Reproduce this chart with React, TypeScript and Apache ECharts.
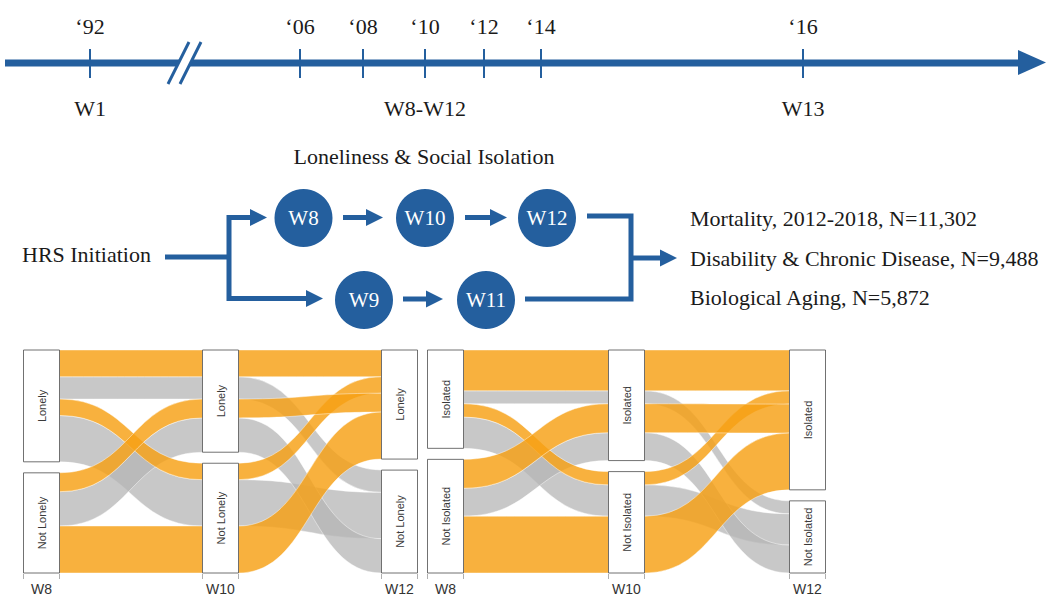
import React, { useEffect, useRef } from 'react';
import * as echarts from 'echarts';

// ---------- data ----------
const timelineYears = ['\u201892', '\u201806', '\u201808', '\u201810', '\u201812', '\u201814', '\u201816'];
const timelineWaves = ['W1', 'W8-W12', 'W13'];
const timelineWaveAt = [0, 3, 6];

const flowTitle = 'Loneliness & Social Isolation';
const flowStart = 'HRS Initiation';
const flowTopWaves = ['W8', 'W10', 'W12'];
const flowBottomWaves = ['W9', 'W11'];
const outcomes = [
  'Mortality, 2012-2018, N=11,302',
  'Disability & Chronic Disease, N=9,488',
  'Biological Aging, N=5,872',
];

const alluvialWaves = ['W8', 'W10', 'W12'];
const lonelinessStates = ['Lonely', 'Not Lonely'];
const isolationStates = ['Isolated', 'Not Isolated'];
// state index at W8, W10, W12 (0 = lonely/isolated, 1 = not)
const trajectories = [
  [0, 0, 0],
  [0, 0, 1],
  [0, 1, 0],
  [0, 1, 1],
  [1, 0, 0],
  [1, 0, 1],
  [1, 1, 0],
];
const lonelinessCounts = [78, 65, 48, 135, 55, 100, 137];
const isolationCounts = [120, 38, 39, 92, 85, 82, 167];

// ---------- layout / style ----------
const BLUE = '#245f9e';
const SERIF = '"Liberation Serif", "DejaVu Serif", serif';
const SANS = '"Liberation Sans", Arial, sans-serif';
const ORANGE_FILL = 'rgba(247,160,20,0.82)';
const GRAY_FILL = 'rgba(182,182,182,0.75)';
const GAP_RATIO = 0.052;
const HW = 18;
const tickXs = [90, 300, 363, 425, 484, 541, 803];
const panels = [
  { left: 41.5, right: 1050 - 399.5 },
  { left: 445.5, right: 1050 - 807.5 },
];

function buildAlluvial(counts: number[]) {
  const total = counts.reduce((a, b) => a + b, 0);
  const gap = total * GAP_RATIO;
  const pos: number[][][] = trajectories.map(() => [[0, 0], [0, 0], [0, 0]]);
  const nodes: number[][] = [];
  for (let a = 0; a < 3; a++) {
    let offset = 0;
    for (let s = 0; s < 2; s++) {
      const members = trajectories.map((_, i) => i).filter((i) => trajectories[i][a] === s);
      members.sort((i, j) => {
        for (let b = 0; b < 3; b++) {
          if (b === a) continue;
          const d = trajectories[i][b] - trajectories[j][b];
          if (d) return d;
        }
        return 0;
      });
      const start = offset;
      for (const i of members) {
        pos[i][a] = [offset, offset + counts[i]];
        offset += counts[i];
      }
      nodes.push([a, start, offset, s]);
      offset += gap;
    }
  }
  const ribbons: number[][] = [];
  for (const colorKey of [1, 0]) {
    trajectories.forEach((t, i) => {
      if (t[2] !== colorKey) return;
      for (let a = 0; a < 2; a++) {
        ribbons.push([a, pos[i][a][0], pos[i][a][1], pos[i][a + 1][0], pos[i][a + 1][1], t[2]]);
      }
    });
  }
  return { ribbons, nodes, max: total + gap };
}

function txt(text: string, x: number, y: number, font: string, fill: string, align = 'center') {
  return {
    type: 'text',
    x,
    y,
    style: {
      text,
      font,
      fill,
      align,
      textAlign: align,
      verticalAlign: 'middle',
      textVerticalAlign: 'middle',
    },
  };
}
function seg(x1: number, y1: number, x2: number, y2: number, w: number, color = BLUE) {
  return { type: 'line', shape: { x1, y1, x2, y2 }, style: { stroke: color, lineWidth: w } };
}
function head(tipX: number, y: number, len = 17, half = 8.5) {
  return {
    type: 'polygon',
    shape: { points: [[tipX - len, y - half], [tipX, y], [tipX - len, y + half]] },
    style: { fill: BLUE },
  };
}

function buildGraphics() {
  const els: any[] = [];
  const TY = 63;
  // timeline
  els.push(seg(5, TY, 1022, TY, 7));
  els.push({ type: 'polygon', shape: { points: [[1018, 50], [1046, 62.5], [1018, 75]] }, style: { fill: BLUE } });
  tickXs.forEach((x) => els.push(seg(x, 49, x, 78, 2)));
  els.push({ type: 'polygon', shape: { points: [[168, 84], [189, 42], [201, 42], [180, 84]] }, style: { fill: '#fff' } });
  els.push(seg(168, 84, 189, 42, 3));
  els.push(seg(180, 84, 201, 42, 3));
  timelineYears.forEach((y, i) => els.push(txt(y, tickXs[i], 26, '22px ' + SERIF, '#1a1a1a')));
  timelineWaves.forEach((w, i) => els.push(txt(w, tickXs[timelineWaveAt[i]], 108, '22px ' + SERIF, '#1a1a1a')));

  // flow diagram
  els.push(txt(flowTitle, 424, 156, '22px ' + SERIF, '#1a1a1a'));
  els.push(txt(flowStart, 22, 254, '22px ' + SERIF, '#1a1a1a', 'left'));
  els.push(seg(165, 257, 229, 257, 5));
  els.push({
    type: 'polyline',
    shape: { points: [[252, 217.5], [229, 217.5], [229, 298.5], [308, 298.5]] },
    style: { stroke: BLUE, lineWidth: 5, fill: null, lineJoin: 'miter' },
  });
  els.push(head(267, 217.5));
  els.push(head(323, 298.5));
  const topCx = [303.5, 425, 547];
  const botCx = [364, 486];
  topCx.forEach((cx, i) => {
    els.push({ type: 'circle', shape: { cx, cy: 218, r: 29 }, style: { fill: BLUE } });
    els.push(txt(flowTopWaves[i], cx, 218, '21px ' + SERIF, '#ffffff'));
  });
  botCx.forEach((cx, i) => {
    els.push({ type: 'circle', shape: { cx, cy: 300, r: 29 }, style: { fill: BLUE } });
    els.push(txt(flowBottomWaves[i], cx, 300, '21px ' + SERIF, '#ffffff'));
  });
  els.push(seg(343, 217.5, 368, 217.5, 5));
  els.push(head(383, 217.5));
  els.push(seg(465, 217.5, 492, 217.5, 5));
  els.push(head(507, 217.5));
  els.push(seg(403, 299, 428, 299, 5));
  els.push(head(443, 299));
  els.push({
    type: 'polyline',
    shape: { points: [[587, 216], [631, 216], [631, 299], [525, 299]] },
    style: { stroke: BLUE, lineWidth: 5, fill: null, lineJoin: 'miter' },
  });
  els.push(seg(631, 258, 661, 258, 5));
  els.push(head(677, 258));
  outcomes.forEach((o, i) => els.push(txt(o, 690, [218, 258, 297][i], '22px ' + SERIF, '#1a1a1a', 'left')));
  return els;
}

function ribbonSeries(p: number, data: number[][]) {
  return {
    type: 'custom',
    xAxisIndex: p,
    yAxisIndex: p,
    data,
    z: 2,
    silent: true,
    renderItem: (params: any, api: any) => {
      const a = api.value(0);
      const A0 = api.coord([a, api.value(1)]);
      const A1 = api.coord([a, api.value(2)]);
      const B0 = api.coord([a + 1, api.value(3)]);
      const B1 = api.coord([a + 1, api.value(4)]);
      const xa = A0[0] + HW;
      const xb = B0[0] - HW;
      const xm = (xa + xb) / 2;
      const d =
        `M${xa},${A0[1]} C${xm},${A0[1]} ${xm},${B0[1]} ${xb},${B0[1]} ` +
        `L${xb},${B1[1]} C${xm},${B1[1]} ${xm},${A1[1]} ${xa},${A1[1]} Z`;
      return {
        type: 'path',
        shape: { pathData: d },
        style: {
          fill: api.value(5) === 0 ? ORANGE_FILL : GRAY_FILL,
          stroke: 'rgba(255,255,255,0.55)',
          lineWidth: 0.8,
        },
      };
    },
  };
}

function nodeSeries(p: number, data: number[][], states: string[]) {
  return {
    type: 'custom',
    xAxisIndex: p,
    yAxisIndex: p,
    data,
    z: 3,
    silent: true,
    renderItem: (params: any, api: any) => {
      const a = api.value(0);
      const s = api.value(3);
      const P0 = api.coord([a, api.value(1)]);
      const P1 = api.coord([a, api.value(2)]);
      const cx = P0[0];
      const children: any[] = [
        {
          type: 'rect',
          shape: { x: cx - HW, y: P0[1], width: HW * 2, height: P1[1] - P0[1] },
          style: { fill: '#ffffff', stroke: '#4d4d4d', lineWidth: 0.8 },
        },
        {
          type: 'text',
          x: cx,
          y: (P0[1] + P1[1]) / 2,
          rotation: Math.PI / 2,
          style: {
            text: states[s],
            font: '11px ' + SANS,
            fill: '#3a3a3a',
            align: 'center',
            textAlign: 'center',
            verticalAlign: 'middle',
            textVerticalAlign: 'middle',
          },
        },
      ];
      if (s === 1) {
        [cx - HW, cx + HW].forEach((x) =>
          children.push({
            type: 'line',
            shape: { x1: x, y1: P1[1] + 1, x2: x, y2: P1[1] + 6 },
            style: { stroke: '#999999', lineWidth: 0.8 },
          })
        );
      }
      return { type: 'group', children };
    },
  };
}

export default function App() {
  const ref = useRef<HTMLDivElement>(null);
  useEffect(() => {
    if (!ref.current) return;
    const chart = echarts.init(ref.current, null, { renderer: 'svg' });
    const L = buildAlluvial(lonelinessCounts);
    const I = buildAlluvial(isolationCounts);
    const sets = [L, I];
    const option: any = {
      animation: false,
      backgroundColor: '#ffffff',
      grid: panels.map((p) => ({ left: p.left, right: p.right, top: 350, bottom: 23 })),
      xAxis: panels.map((_, i) => ({
        type: 'category',
        gridIndex: i,
        data: alluvialWaves,
        boundaryGap: false,
        axisLine: { show: false },
        axisTick: { show: false },
        splitLine: { show: false },
        axisLabel: { fontSize: 14, color: '#333333', fontFamily: SANS, margin: 9 },
      })),
      yAxis: sets.map((s, i) => ({
        type: 'value',
        gridIndex: i,
        min: 0,
        max: s.max,
        inverse: true,
        show: false,
      })),
      series: [
        ribbonSeries(0, L.ribbons),
        nodeSeries(0, L.nodes, lonelinessStates),
        ribbonSeries(1, I.ribbons),
        nodeSeries(1, I.nodes, isolationStates),
      ],
      graphic: { elements: buildGraphics() },
    };
    chart.setOption(option);
    return () => chart.dispose();
  }, []);
  return (
    <div
      ref={ref}
      style={{ position: 'fixed', left: 0, top: 0, width: 1050, height: 596, background: '#fff' }}
    />
  );
}
